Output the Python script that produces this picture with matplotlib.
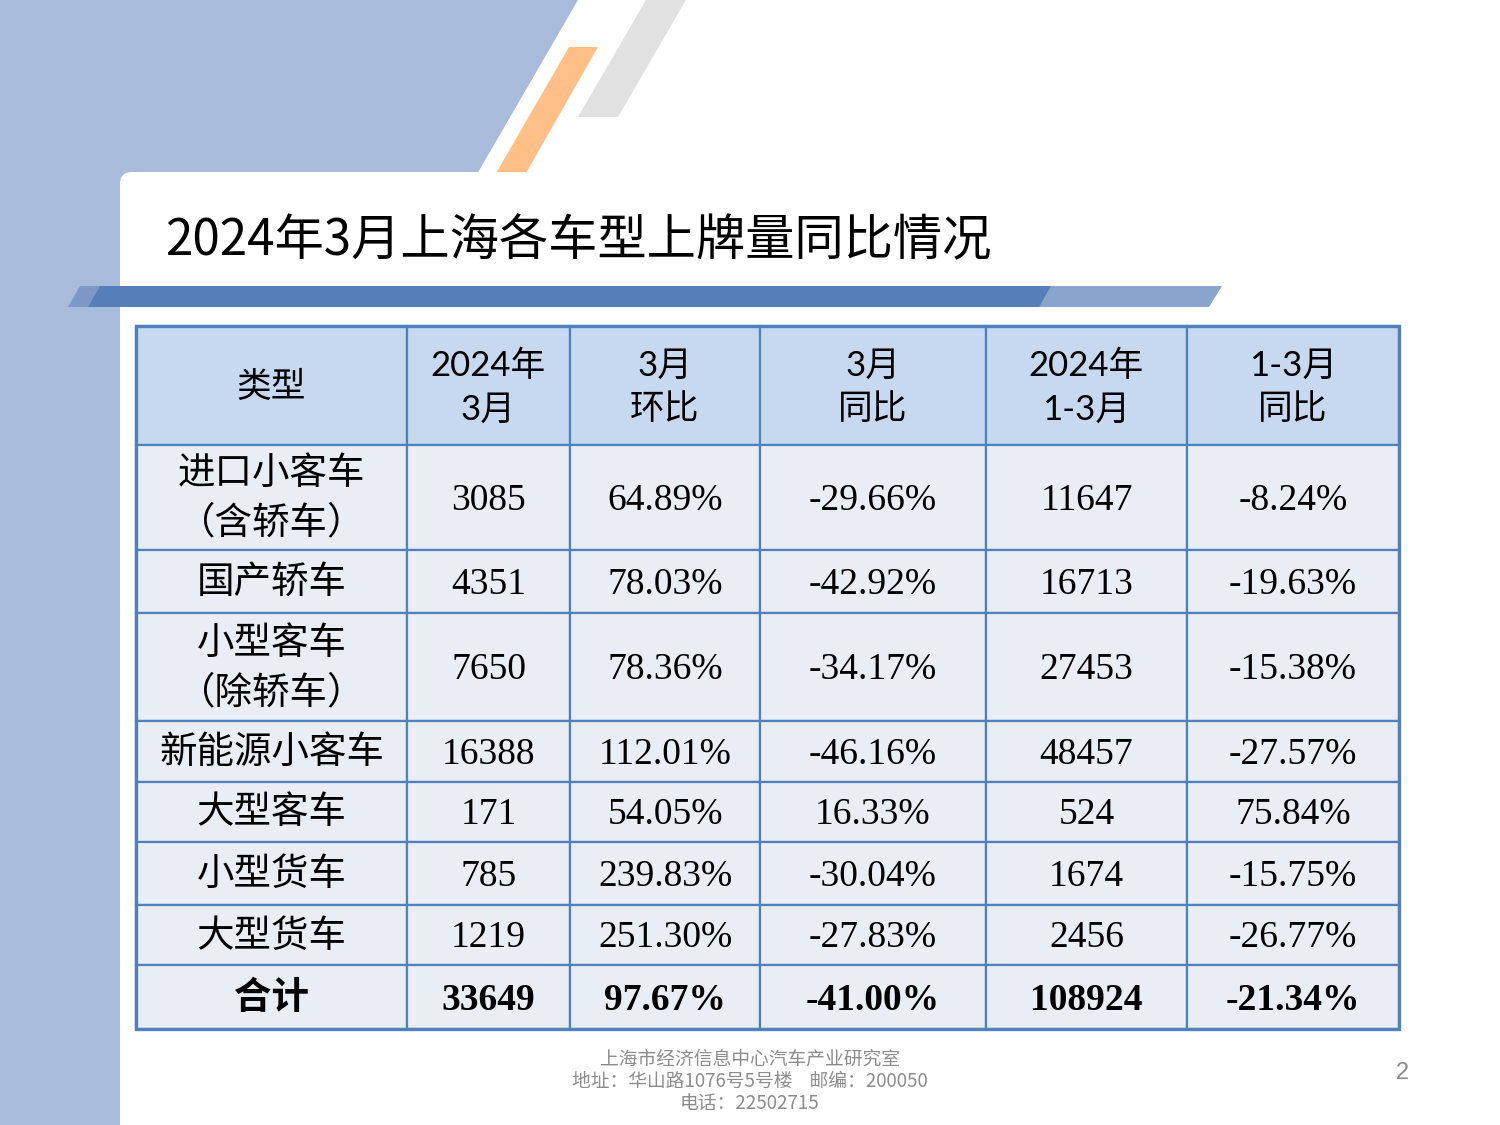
import matplotlib
matplotlib.use("Agg")
import matplotlib.pyplot as plt
from matplotlib.patches import Polygon, Rectangle, FancyBboxPatch

plt.rcParams['font.family'] = ['Noto Sans CJK SC', 'DejaVu Sans']

# ---------------- data ----------------
title = "2024年3月上海各车型上牌量同比情况"
headers = ["类型", "2024年\n3月", "3月\n环比", "3月\n同比", "2024年\n1-3月", "1-3月\n同比"]
categories = ["进口小客车\n（含轿车）", "国产轿车", "小型客车\n（除轿车）", "新能源小客车",
              "大型客车", "小型货车", "大型货车", "合计"]
march_2024 = ["3085", "4351", "7650", "16388", "171", "785", "1219", "33649"]
march_mom = ["64.89%", "78.03%", "78.36%", "112.01%", "54.05%", "239.83%", "251.30%", "97.67%"]
march_yoy = ["-29.66%", "-42.92%", "-34.17%", "-46.16%", "16.33%", "-30.04%", "-27.83%", "-41.00%"]
ytd_2024 = ["11647", "16713", "27453", "48457", "524", "1674", "2456", "108924"]
ytd_yoy = ["-8.24%", "-19.63%", "-15.38%", "-27.57%", "75.84%", "-15.75%", "-26.77%", "-21.34%"]
footer_lines = ["上海市经济信息中心汽车产业研究室", "地址：华山路1076号5号楼    邮编：200050", "电话：22502715"]
page_no = "2"

# ---------------- layout ----------------
col_edges = [136, 407, 570, 760, 986, 1187, 1399]
row_edges = [326, 445, 550, 613, 721, 782, 842, 905, 965, 1029]

BLUE_BG = "#A8BBDB"
HEAD_FILL = "#C6D9F0"
BODY_FILL = "#E9EDF4"
LINE = "#4F81BD"
CJK = ['Noto Sans CJK SC', 'DejaVu Sans']
SERIF = ['Liberation Serif', 'Noto Sans CJK SC']
HEADF = ['Lato', 'Noto Sans CJK SC']

fig = plt.figure(figsize=(15, 11.25), dpi=100)
ax = fig.add_axes([0, 0, 1, 1])
ax.set_xlim(0, 1500)
ax.set_ylim(1125, 0)
ax.axis('off')

# background decorations
ax.add_patch(Polygon([(0, 0), (578, 0), (462, 200), (120, 200), (120, 1125), (0, 1125)],
                     closed=True, fc=BLUE_BG, ec='none', zorder=1))
ax.add_patch(Polygon([(646, 0), (686, 0), (618, 117), (578, 117)], closed=True,
                     fc="#E1E1E1", ec='none', zorder=1))
ax.add_patch(Polygon([(569, 47), (598, 47), (525, 175), (495, 175)], closed=True,
                     fc="#FFBF87", ec='none', zorder=1))
ax.add_patch(FancyBboxPatch((120, 172), 1450, 1000,
                            boxstyle="round,pad=0,rounding_size=12",
                            fc='white', ec='none', zorder=2))

# title
ax.text(165, 241, title, fontsize=35.5, family=CJK, ha='left', va='center', color='black', zorder=5)

# title bar
ax.add_patch(Polygon([(1030, 286), (1222, 286), (1209, 307), (1020, 307)], closed=True,
                     fc="#89A4CD", ec='none', zorder=3))
ax.add_patch(Polygon([(80, 286), (104, 286), (92, 307), (68, 307)], closed=True,
                     fc="#7B98C8", ec='none', zorder=3))
ax.add_patch(Polygon([(100, 286), (1051, 286), (1039, 307), (88, 307)], closed=True,
                     fc="#567FB9", ec='none', zorder=4))

# table cells
columns = [categories, march_2024, march_mom, march_yoy, ytd_2024, ytd_yoy]
nrows = len(categories)
for c in range(len(headers)):
    x0, x1 = col_edges[c], col_edges[c + 1]
    y0, y1 = row_edges[0], row_edges[1]
    ax.add_patch(Rectangle((x0, y0), x1 - x0, y1 - y0, fc=HEAD_FILL, ec=LINE, lw=1.6, zorder=5))
    fam = CJK if c == 0 else HEADF
    ax.text((x0 + x1) / 2, (y0 + y1) / 2 + 2, headers[c], fontsize=25, family=fam,
            ha='center', va='center', linespacing=1.45, color='black', zorder=6)
    for r in range(nrows):
        y0, y1 = row_edges[r + 1], row_edges[r + 2]
        ax.add_patch(Rectangle((x0, y0), x1 - x0, y1 - y0, fc=BODY_FILL, ec=LINE, lw=1.6, zorder=5))
        bold = (r == nrows - 1)
        if c == 0:
            ax.text((x0 + x1) / 2, (y0 + y1) / 2 + 1, columns[c][r], fontsize=27,
                    family=CJK, ha='center', va='center', linespacing=1.35,
                    fontweight='bold' if bold else 'normal', color='black', zorder=6)
        else:
            ax.text((x0 + x1) / 2, (y0 + y1) / 2 + 3, columns[c][r], fontsize=27,
                    family=SERIF, ha='center', va='center',
                    fontweight='bold' if bold else 'normal', color='black', zorder=6)

# outer border
ax.add_patch(Rectangle((col_edges[0], row_edges[0]), col_edges[-1] - col_edges[0],
                       row_edges[-1] - row_edges[0], fc='none', ec=LINE, lw=2.4, zorder=7))

# footer
for i, line in enumerate(footer_lines):
    ax.text(750, 1059 + 22.5 * i, line, fontsize=13.5, family=CJK, ha='center', va='center',
            color='#8C8C8C', zorder=6)
ax.text(1402, 1073, page_no, fontsize=17, family=['Liberation Sans'], ha='center', va='center',
        color='#8C8C8C', zorder=6)

fig.savefig("out.png", dpi=100)
